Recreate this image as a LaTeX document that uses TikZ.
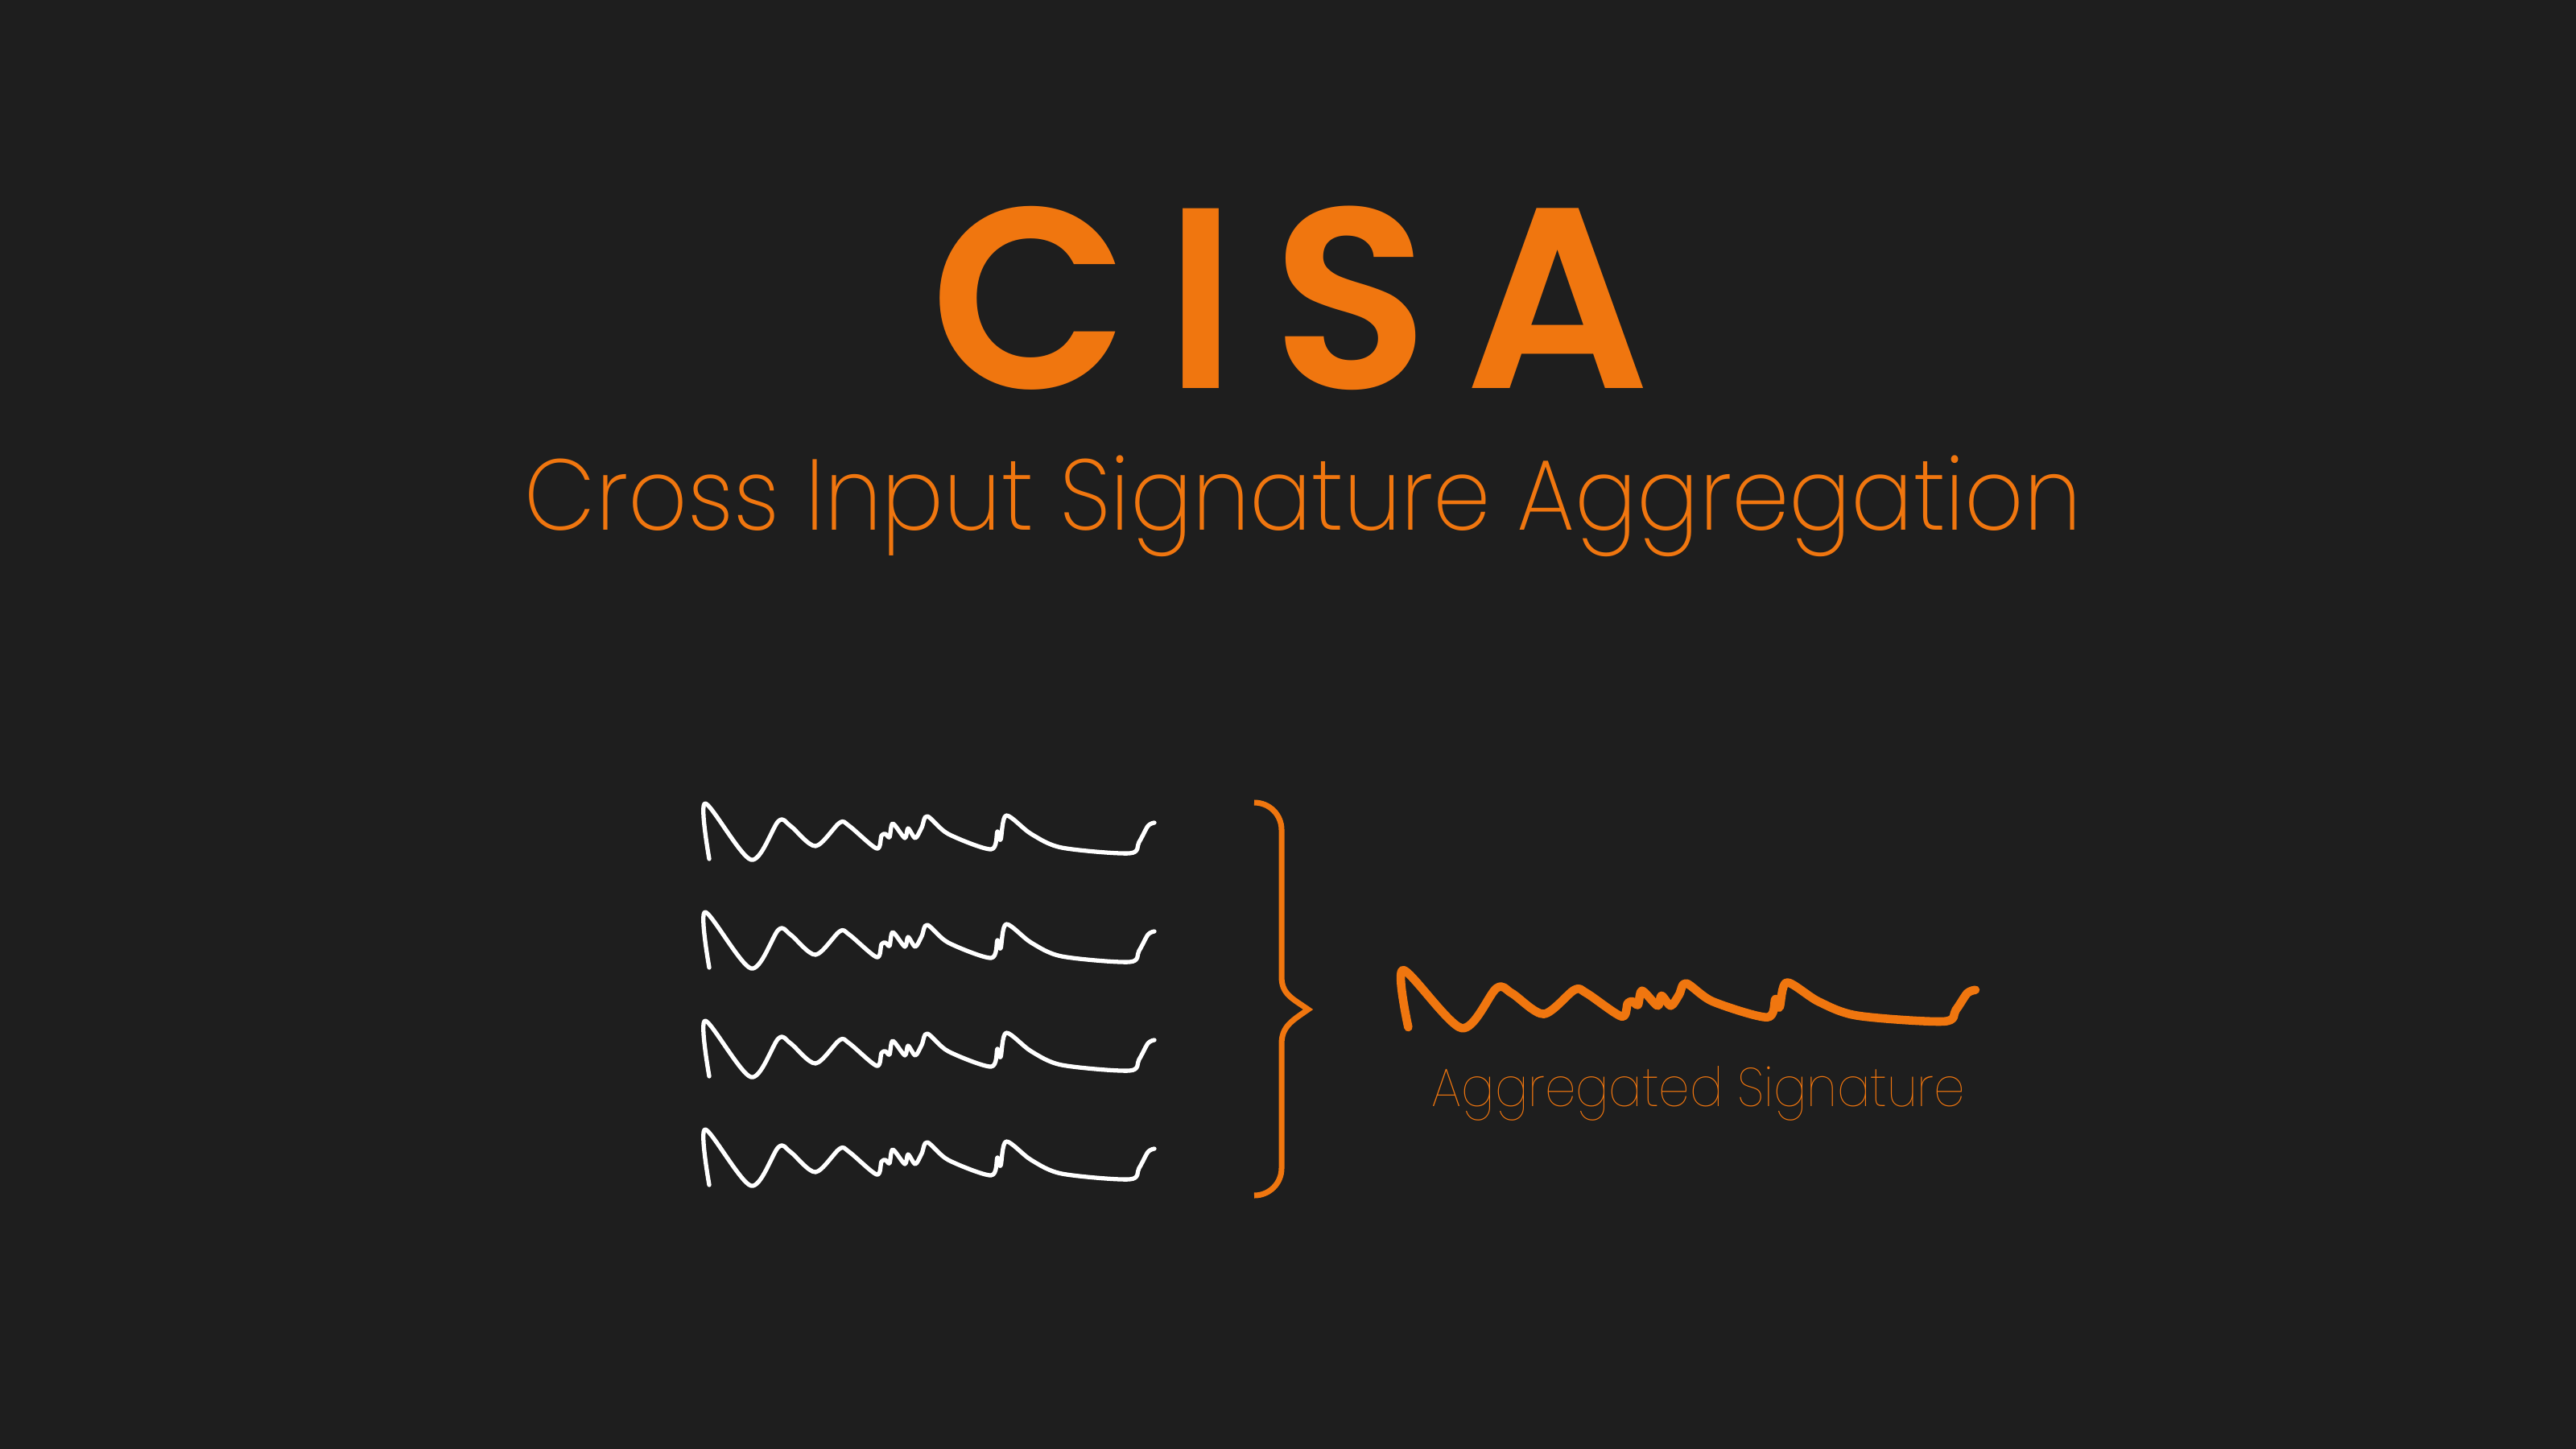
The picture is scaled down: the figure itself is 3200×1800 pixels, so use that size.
\documentclass[tikz,border=0pt]{standalone}
\usepackage{fontspec}
\setmainfont{Poppins}
\newfontfamily\titlefont{Poppins}[UprightFont={* SemiBold}]
\newfontfamily\lightfont{Poppins}[UprightFont={* ExtraLight}]
\newfontfamily\thinfont{Poppins}[UprightFont={* Thin}]
\definecolor{bg}{HTML}{1E1E1E}
\definecolor{accent}{HTML}{F0760F}
\tikzset{
  sig/.pic={\draw[pic actions] plot[smooth,tension=0.5] coordinates {(5,69) (0,0) (57,70) (91,22) (106,28) (137,53) (167,24) (179,28) (213,56) (219,40) (224,38) (229,42) (233,25) (248,43) (252,31) (261,43) (269,30) (276,16) (302,38) (355,57) (363,35) (367,45) (374,15) (405,38) (443,55) (527,62) (539,48) (550,28) (558,24)};},
  whitesig/.style={draw=white,line width=1.5pt,line cap=round,line join=round},
  orangesig/.style={draw=accent,line width=3pt,line cap=round,line join=round},
  brace/.style={draw=accent,line width=2pt,line join=miter},
  txt/.style={text=accent,inner sep=0pt,anchor=base}
}
\begin{document}
\begin{tikzpicture}[x=0.01cm,y=-0.01cm]
\fill[bg] (0,0) rectangle (3200,1800);
\useasboundingbox (0,0) rectangle (3200,1800);
\node[txt] (title) at (1603,482) {\titlefont\fontsize{91}{91}\selectfont\addfontfeature{LetterSpace=14}CISA};
\node[txt] (subtitle) at (1619,658) {\scalebox{0.918}[1]{\lightfont\fontsize{35.5}{40}\selectfont Cross Input Signature Aggregation}};
\pic[whitesig] at (876,998) {sig};
\pic[whitesig] at (876,1133) {sig};
\pic[whitesig] at (876,1268) {sig};
\pic[whitesig] at (876,1403) {sig};
\draw[brace] (1558,997) .. controls (1577,997) and (1592,1012) .. (1592,1031) -- (1592,1213)
  .. controls (1592,1235) and (1605,1240) .. (1625,1254)
  .. controls (1605,1268) and (1592,1275) .. (1592,1297)
  -- (1592,1451) .. controls (1592,1470) and (1577,1485) .. (1558,1485);
\pic[orangesig,xscale=1.274,yscale=1.03] at (1743,1205) {sig};
\node[txt] (label) at (2110,1374) {\scalebox{0.91}[1]{\thinfont\fontsize{19.2}{22}\selectfont Aggregated Signature}};
\end{tikzpicture}
\end{document}
